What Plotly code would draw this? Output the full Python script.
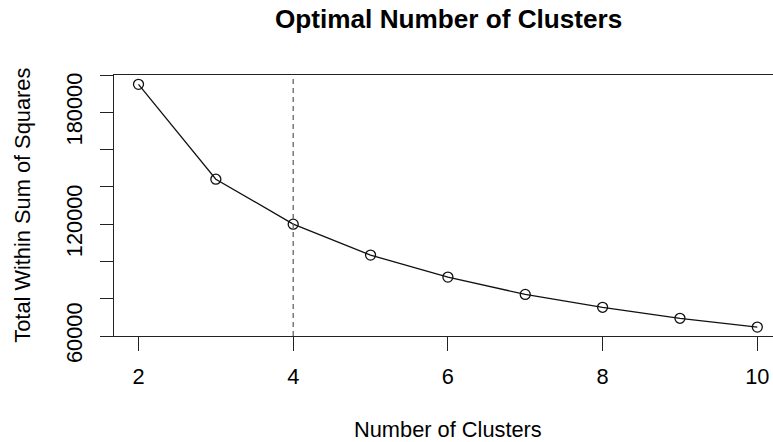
import plotly.graph_objects as go

# Data
clusters = [2, 3, 4, 5, 6, 7, 8, 9, 10]
wss = [195000, 144100, 120000, 103400, 91600, 82300, 75400, 69500, 64800]
optimal_k = 4

x_ticks = [2, 4, 6, 8, 10]
y_ticks = [60000, 80000, 100000, 120000, 140000, 160000, 180000, 200000]
y_tick_labels = ["60000", "", "", "120000", "", "", "180000", ""]

FONT = "Liberation Sans, Arial, Helvetica, sans-serif"
BASE = 21.8
# figure is a bit wider than the 773px window; the page hides the overflow,
# so the right side of the frame is cropped like in the reference
W, H = 790, 442
PL, PT, PB, PR = 114, 75, 336, 782
ML, MT, MB, MR = PL, PT, H - PB, W - PR
PW = W - ML - MR
PH = H - MT - MB

px_per_unit = (757.3 - 138.5) / 8
x0 = 2 - (138.5 - PL) / px_per_unit
x1 = x0 + PW / px_per_unit

fig = go.Figure()
fig.add_trace(go.Scatter(
    x=clusters, y=wss, mode="lines+markers",
    line=dict(color="#111111", width=1.3),
    marker=dict(symbol="circle-open", size=10, color="#111111",
                line=dict(width=1.3, color="#111111")),
    showlegend=False, hoverinfo="x+y",
))

fig.add_shape(type="line", xref="x", yref="paper", x0=optimal_k, x1=optimal_k,
              y0=0, y1=1, line=dict(color="#666666", width=1.3, dash="5px,4px"))

fig.update_layout(
    width=W, height=H,
    margin=dict(l=ML, r=MR, t=MT, b=MB, pad=0),
    paper_bgcolor="white", plot_bgcolor="white",
    font=dict(family=FONT, size=BASE, color="black"),
    xaxis=dict(range=[x0, x1], tickvals=x_ticks, ticktext=[str(v) for v in x_ticks],
               showgrid=False, zeroline=False, showline=True, mirror=True,
               linecolor="#222222", linewidth=1.3,
               ticks="outside", ticklen=14, tickwidth=1.3, tickcolor="#222222",
               ticklabelstandoff=7, tickfont=dict(size=BASE)),
    yaxis=dict(range=[60000, 200000], tickvals=y_ticks, ticktext=y_tick_labels,
               showgrid=False, zeroline=False, showline=True, mirror=True,
               linecolor="#222222", linewidth=1.3,
               ticks="outside", ticklen=13, tickwidth=1.3, tickcolor="#222222",
               tickangle=-90, ticklabelstandoff=9, tickfont=dict(size=BASE)),
)

def px_to_paper_x(sx):
    return (sx - ML) / PW

def px_to_paper_y(sy):
    return 1 - (sy - MT) / PH

fig.add_annotation(text="<b>Optimal Number of Clusters</b>", xref="paper", yref="paper",
                   x=0.5, y=px_to_paper_y(19.5),
                   xanchor="center", yanchor="middle", showarrow=False,
                   font=dict(size=BASE * 1.2))
fig.add_annotation(text="Number of Clusters", xref="paper", yref="paper",
                   x=0.5, y=px_to_paper_y(429.5),
                   xanchor="center", yanchor="middle", showarrow=False,
                   font=dict(size=BASE))
fig.add_annotation(text="Total Within Sum of Squares", xref="paper", yref="paper",
                   x=px_to_paper_x(22.2), y=0.5, textangle=-90,
                   xanchor="center", yanchor="middle", showarrow=False,
                   font=dict(size=BASE))

fig.write_html("out.html", config={"displayModeBar": False},
               post_script="document.body.style.margin='0';document.body.style.overflow='hidden';")
